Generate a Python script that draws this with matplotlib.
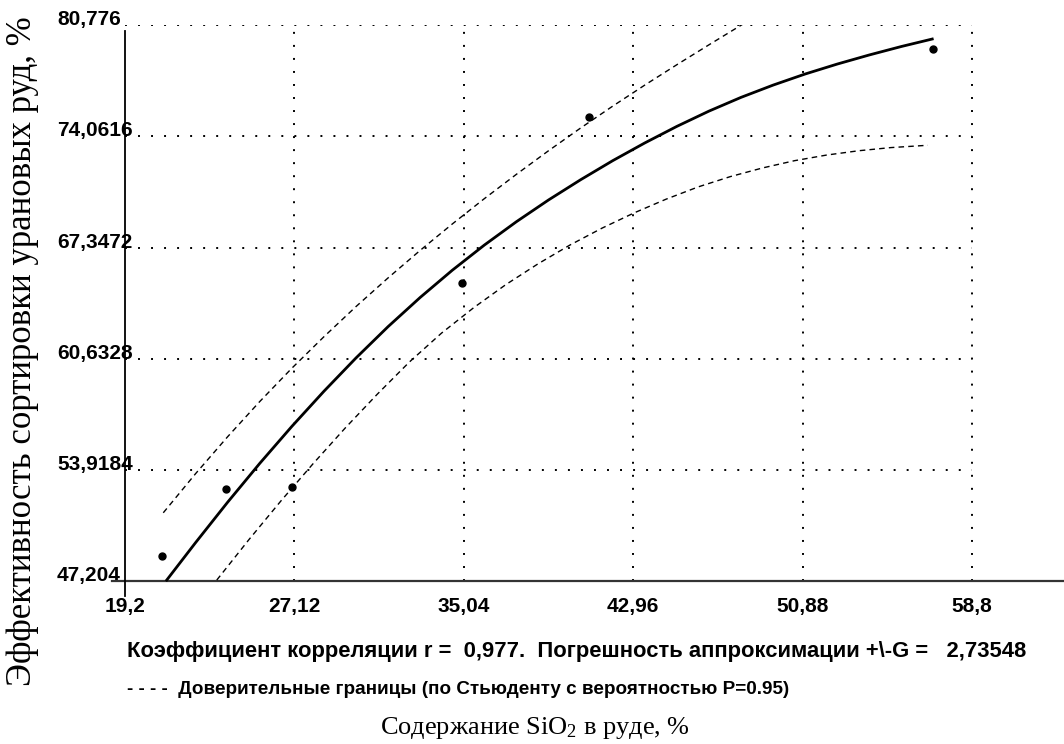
import matplotlib
matplotlib.use('Agg')
import matplotlib.pyplot as plt

plt.rcParams['mathtext.fontset'] = 'custom'
plt.rcParams['mathtext.rm'] = 'Liberation Serif'
plt.rcParams['mathtext.it'] = 'Liberation Serif:italic'

# оси
x_ticks = [19.2, 27.12, 35.04, 42.96, 50.88, 58.8]
x_labels = ['19,2', '27,12', '35,04', '42,96', '50,88', '58,8']
y_ticks = [47.204, 53.9184, 60.6328, 67.3472, 74.0616, 80.776]
y_labels = ['47,204', '53,9184', '60,6328', '67,3472', '74,0616', '80,776']

# экспериментальные точки
x_pts = [20.94, 23.92, 26.99, 34.94, 40.91, 56.96]
y_pts = [48.76, 52.77, 52.92, 65.23, 75.2, 79.3]

# аппроксимирующая кривая
fit_x = [21.15, 22.5, 24, 25.5, 27, 28.5, 30, 31.5, 33, 34.5, 36, 37.5, 39,
         40.5, 42, 43.5, 45, 46.5, 48, 49.5, 51, 52.5, 54, 55.5, 56.94]
fit_y = [47.29, 49.55, 51.99, 54.33, 56.56, 58.68, 60.69, 62.58, 64.34, 65.98, 67.50, 68.91, 70.22,
         71.44, 72.59, 73.66, 74.66, 75.58, 76.41, 77.15, 77.82, 78.42, 78.97, 79.48, 79.93]

# доверительные границы
up_x = [20.99, 22.5, 24, 25.5, 27, 28.5, 30, 31.5, 33, 34.5, 36, 37.5, 39,
        40.5, 42, 43.5, 45, 46.5, 48, 49]
up_y = [51.35, 53.71, 55.94, 58.06, 60.07, 61.97, 63.79, 65.52, 67.18, 68.77, 70.30, 71.77, 73.19,
        74.56, 75.88, 77.15, 78.38, 79.58, 80.76, 81.54]
lo_x = [23.49, 25, 26.5, 28, 29.5, 31, 32.5, 34, 35.5, 37, 38.5, 40, 41.5,
        43, 44.5, 46, 47.5, 49, 50.5, 52, 53.5, 55, 56.73]
lo_y = [47.29, 49.74, 52.08, 54.32, 56.47, 58.51, 60.45, 62.19, 63.72, 65.11, 66.36, 67.50, 68.52,
        69.44, 70.27, 71.01, 71.63, 72.15, 72.59, 72.93, 73.19, 73.38, 73.52]

W, H = 1064, 744
fig = plt.figure(figsize=(W / 100, H / 100), dpi=100)
ax = fig.add_axes([125 / W, 1 - 581.5 / H, 939 / W, 556.5 / H])
ax.set_xlim(19.2, 63.1)
ax.set_ylim(y_ticks[0], y_ticks[-1])
for s in ax.spines.values():
    s.set_visible(False)

# точечная сетка
grid_kw = dict(colors='black', linewidth=1.4, linestyles=[(0, (1, 5.7))])
ax.hlines(y_ticks[1:], x_ticks[0], x_ticks[-1], **grid_kw)
ax.vlines(x_ticks[1:], y_ticks[0], y_ticks[-1], **grid_kw)

# линии осей
ax.axhline(y_ticks[0], xmin=-13 / 939, xmax=1, color='#333333', lw=1.6, clip_on=False)
ax.axvline(x_ticks[0], ymin=-14 / 556.5, ymax=0.99, color='black', lw=1.3, clip_on=False)

ax.plot(fit_x, fit_y, color='black', lw=2.0, solid_joinstyle='round')
ax.plot(up_x, up_y, color='black', lw=1.0, ls=(0, (4, 3)))
ax.plot(lo_x, lo_y, color='black', lw=1.0, ls=(0, (4, 3)))
ax.plot(x_pts, y_pts, 'o', color='black', ms=5, zorder=3)

ax.set_xticks(x_ticks, x_labels)
ax.set_yticks(y_ticks, y_labels)
ax.tick_params(length=0)
ax.tick_params(axis='x', pad=11, labelsize=15)
ax.tick_params(axis='y', pad=49, labelsize=15)
for lab in ax.get_xticklabels():
    lab.set_fontfamily('Liberation Sans')
    lab.set_fontweight('bold')
for i, lab in enumerate(ax.get_yticklabels()):
    lab.set_fontfamily('Liberation Sans')
    lab.set_fontweight('bold')
    lab.set_ha('left')
    lab.set_va('baseline')
    if i > 0:
        lab.set_bbox(dict(facecolor='white', edgecolor='none', pad=1))

txt_kw = dict(ha='left', va='center', fontweight='bold', family='Liberation Sans')
fig.text(127 / W, 1 - 652 / H,
         'Коэффициент корреляции r =  0,977.  Погрешность аппроксимации +\\-G =   2,73548',
         fontsize=15.8, **txt_kw)
fig.text(127 / W, 1 - 689 / H,
         '- - - -  Доверительные границы (по Стьюденту с вероятностью P=0.95)',
         fontsize=13.6, **txt_kw)

fig.text(535 / W, 1 - 728 / H, 'Содержание SiO$_2$ в руде, %',
         ha='center', va='center', fontsize=19, family='Liberation Serif')
fig.text(23 / W, 1 - 351 / H, 'Эффективность сортировки урановых руд, %',
         rotation=90, ha='center', va='center', fontsize=25, family='Liberation Serif')

fig.savefig('out.png', dpi=100)
